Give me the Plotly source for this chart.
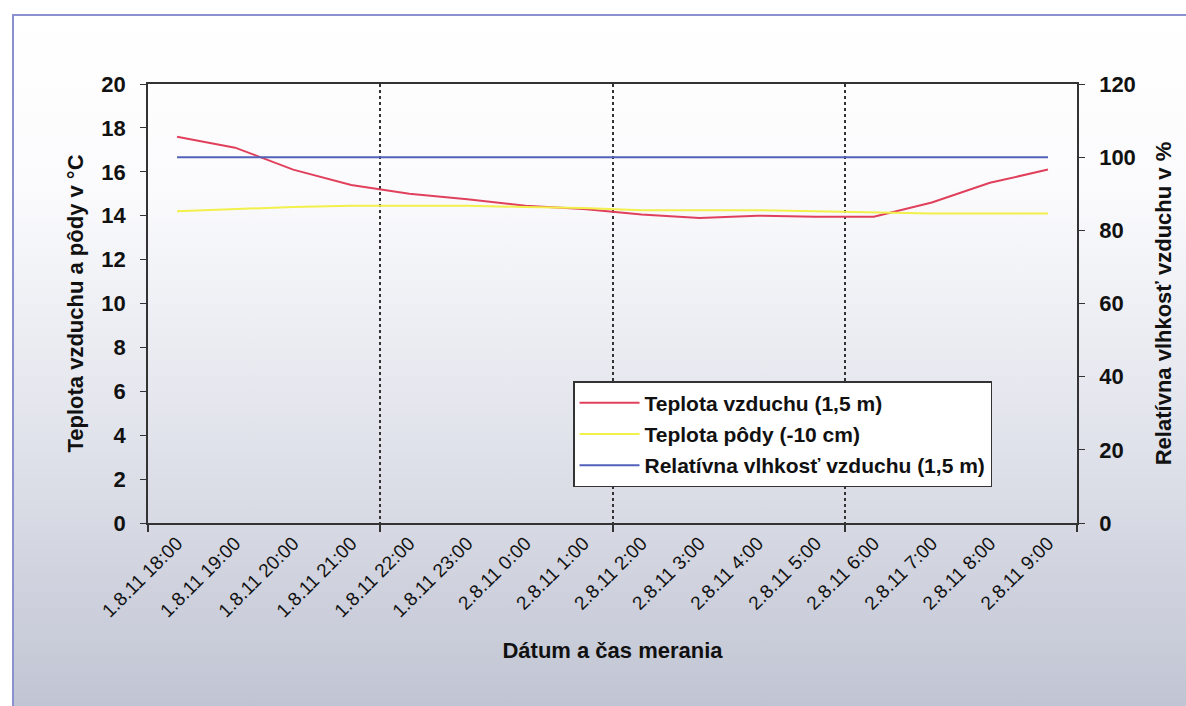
import base64
import plotly.graph_objects as go

categories = ["1.8.11 18:00", "1.8.11 19:00", "1.8.11 20:00", "1.8.11 21:00",
              "1.8.11 22:00", "1.8.11 23:00", "2.8.11 0:00", "2.8.11 1:00",
              "2.8.11 2:00", "2.8.11 3:00", "2.8.11 4:00", "2.8.11 5:00",
              "2.8.11 6:00", "2.8.11 7:00", "2.8.11 8:00", "2.8.11 9:00"]
air_temp = [17.6, 17.1, 16.1, 15.4, 15.0, 14.75, 14.45, 14.3, 14.05, 13.9,
            14.0, 13.95, 13.95, 14.6, 15.5, 16.1]
soil_temp = [14.2, 14.3, 14.4, 14.45, 14.45, 14.45, 14.4, 14.35, 14.25, 14.25,
             14.25, 14.2, 14.15, 14.1, 14.1, 14.1]
humidity = [100, 100, 100, 100, 100, 100, 100, 100, 100, 100,
            100, 100, 100, 100, 100, 100]
group_bounds = [-0.5, 3.5, 7.5, 11.5, 15.5]

xs = list(range(len(categories)))
FONT = "Liberation Sans, Arial, sans-serif"

svg = """<svg xmlns='http://www.w3.org/2000/svg' width='1174' height='692' viewBox='0 0 1174 692' preserveAspectRatio='none'>
<defs><linearGradient id='g' x1='0' y1='0' x2='0' y2='1'>
<stop offset='0' stop-color='#ffffff'/><stop offset='0.25' stop-color='#fbfbfd'/>
<stop offset='0.6' stop-color='#e2e4ec'/><stop offset='1' stop-color='#c1c5d3'/></linearGradient></defs>
<rect x='0' y='0' width='1174' height='692' fill='url(#g)'/>
<line x1='1' y1='0' x2='1' y2='692' stroke='#8a90d0' stroke-width='2'/>
<line x1='0' y1='1' x2='1174' y2='1' stroke='#8a90d0' stroke-width='2'/>
</svg>"""
src = "data:image/svg+xml;base64," + base64.b64encode(svg.encode()).decode()

L, R, T, B = 148, 1077, 84, 523
W, H = R - L, B - T

def px(x):
    return (x - L) / W

def py(y):
    return (B - y) / H

fig = go.Figure()
fig.add_trace(go.Scatter(x=xs, y=air_temp, mode="lines", name="Teplota vzduchu (1,5 m)",
                         line=dict(color="#e0405c", width=2), legendgroup="a"))
fig.add_trace(go.Scatter(x=xs, y=soil_temp, mode="lines", name="Teplota pôdy (-10 cm)",
                         line=dict(color="#f2f04a", width=2), legendgroup="b"))
fig.add_trace(go.Scatter(x=xs, y=humidity, mode="lines", name="Relatívna vlhkosť vzduchu (1,5 m)",
                         line=dict(color="#5262b8", width=2), xaxis="x2", yaxis="y2",
                         legendgroup="c"))

fig.update_layout(
    width=1186, height=706,
    margin=dict(l=L, r=1186 - R, t=T, b=706 - B),
    paper_bgcolor="white", plot_bgcolor="white",
    font=dict(family=FONT, color="#111"),
    images=[dict(source=src, xref="paper", yref="paper",
                 x=px(12), y=py(14), sizex=px(1186) - px(12), sizey=py(14) - py(706),
                 xanchor="left", yanchor="top", sizing="stretch", layer="below")],
    xaxis=dict(range=[-0.5, 15.5], tickvals=xs, ticktext=categories, tickangle=-45,
               ticks="", showgrid=False, zeroline=False, showline=True, mirror=True,
               linecolor="#333", linewidth=1.5,
               tickfont=dict(size=19, family=FONT, color="#111"),
               title=dict(text="<b>Dátum a čas merania</b>", font=dict(size=22, family=FONT),
                          standoff=22)),
    xaxis2=dict(overlaying="x", range=[-0.5, 15.5], tickvals=group_bounds, showticklabels=False,
                ticks="outside", ticklen=8, tickcolor="#333", tickwidth=1.5,
                showgrid=True, gridcolor="#333",
                griddash="dot", gridwidth=1.5, zeroline=False, side="bottom", anchor="y2",
                showline=False),
    yaxis=dict(range=[0, 20], dtick=2, ticks="outside", ticklen=6, tickcolor="#333",
               showgrid=False, zeroline=False, showline=True, linecolor="#333", linewidth=1.5,
               ticklabelstandoff=10,
               tickfont=dict(size=22, family=FONT, color="#111", weight="bold"),
               title=dict(text="<b>Teplota vzduchu a pôdy v °C</b>", font=dict(size=22, family=FONT),
                          standoff=12)),
    yaxis2=dict(range=[0, 120], dtick=20, overlaying="y", side="right", anchor="x2",
                ticks="outside", ticklen=6, tickcolor="#333", showgrid=False, zeroline=False,
                showline=True, linecolor="#333", linewidth=1.5, ticklabelstandoff=10,
                tickfont=dict(size=22, family=FONT, color="#111", weight="bold"),
                title=dict(text="<b>Relatívna vlhkosť vzduchu v %</b>", font=dict(size=22, family=FONT),
                           standoff=21)),
    legend=dict(x=px(573), y=py(381), xanchor="left", yanchor="top",
                bgcolor="white", bordercolor="#333", borderwidth=1.5,
                font=dict(size=21, family=FONT, color="#111", weight="bold"),
                traceorder="grouped", tracegroupgap=1, itemwidth=60),
    showlegend=True,
)

fig.write_html("out.html", config={"displayModeBar": False},
               post_script="document.body.style.margin='0px';")
